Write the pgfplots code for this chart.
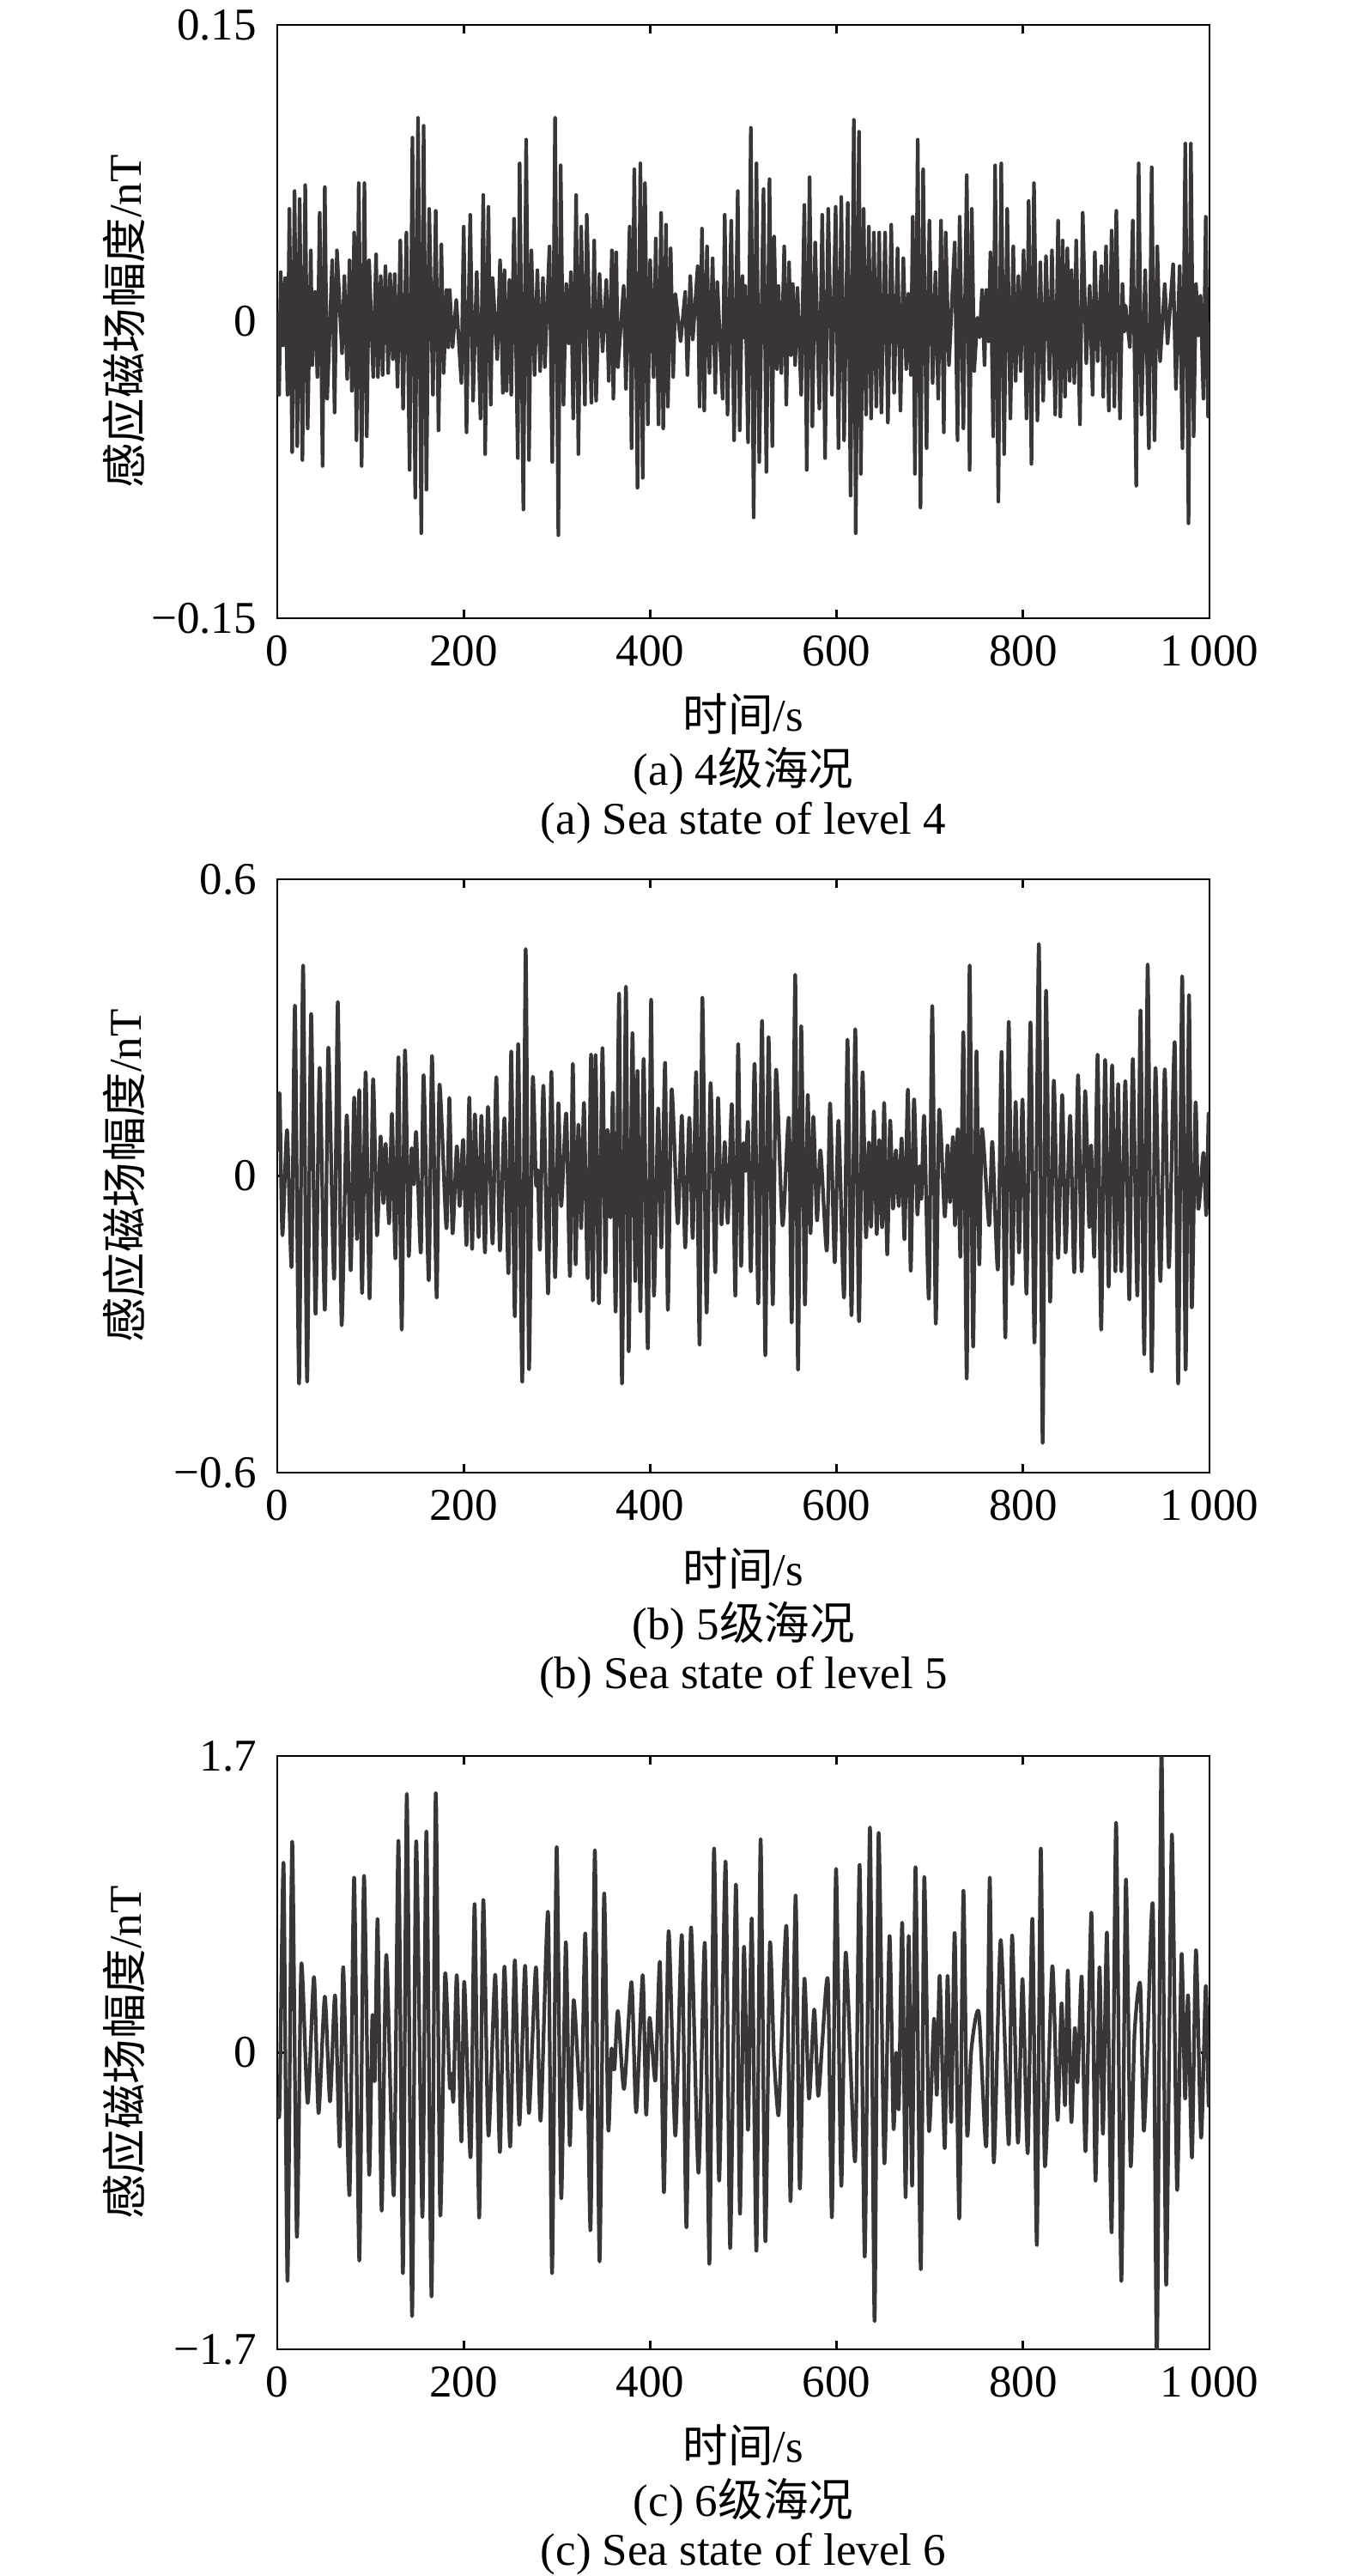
\documentclass[border=0pt]{standalone}
\usepackage{fontspec}
\setmainfont{Liberation Serif}
\newfontfamily\cjk{Noto Sans CJK SC}
\usepackage{pgfplots}
\usepackage{pgfplotstable}
\pgfplotsset{compat=1.18}
\definecolor{sig}{RGB}{58,54,55}
\newcommand{\lf}{\fontsize{10.6}{12.5}\selectfont}
\newcommand{\zh}[1]{{\cjk\fontsize{10.5}{12.5}\selectfont #1}}
\pgfplotsset{
  panel/.style={
    width=217.2pt, height=138.2pt, scale only axis,
    xmin=0, xmax=1000,
    xtick={0,200,400,600,800,1000},
    xticklabels={0,200,400,600,800,1\thinspace000},
    tick align=inside,
    major tick length=2pt,
    axis line style={line width=0.55pt},
    every tick/.style={line width=0.55pt, black},
    tick label style={font=\lf},
    yticklabel style={xshift=-1.3pt},
    xticklabel style={yshift=-0.6pt},
    xlabel={\zh{时间}/s},
    ylabel={\zh{感应磁场幅度}/nT},
    every axis x label/.style={at={(axis description cs:0.5,-0.162)},anchor=center,font=\lf},
    every axis y label/.style={at={(axis description cs:-0.1645,0.5)},rotate=90,anchor=center,font=\lf},
    clip mode=individual,
  },
  sigline/.style={color=sig, line width=0.85pt, line join=round},
}
\pgfplotstableread{
t v
0 0.005
2 -0.037
3.7 0.025
6 -0.012
8.5 0.022
11 -0.037
13 0.057
16 -0.066
18.5 0.066
21.5 -0.063
24 0.062
27 -0.070
30 0.069
32.6 -0.054
36 0.036
37.5 -0.022
40.6 0.015
43 -0.028
45.5 0.055
48.6 -0.073
51 0.068
53.5 -0.039
59 0.031
61.5 -0.046
64 0.036
69.5 -0.016
72 0.023
75 -0.029
77.5 0.031
80 -0.035
82.5 0.045
85 -0.060
87.4 0.070
90.5 -0.073
93.5 0.070
96 -0.058
98.5 0.031
103 -0.028
106 0.034
108 -0.028
111 0.023
113 -0.027
116 0.028
119 -0.026
121 0.024
124 -0.019
126 0.024
129 -0.033
132 0.041
135 -0.044
138.5 0.045
142 -0.075
145 0.093
148 -0.089
151 0.103
154.5 -0.107
157 0.099
160 -0.085
163 0.057
167 -0.037
170 0.056
173 -0.055
176 0.039
178.5 -0.026
181.5 0.016
183.4 -0.013
185 0.016
188 -0.013
192 0.011
197.5 -0.031
200 0.048
203 -0.056
207 0.054
210 -0.040
214 0.025
218 -0.049
221 0.064
223 -0.067
226.5 0.058
229 -0.042
231 0.022
236 -0.019
239 0.031
242 -0.036
243.7 0.026
246 -0.035
249 0.021
251 -0.037
254 0.052
258 -0.069
260 0.080
264 -0.095
267 0.092
270 -0.070
272.6 0.036
276 -0.027
279 0.026
282 -0.025
285 0.022
287 -0.023
292 0.038
295 -0.071
298 0.103
301.5 -0.108
304 0.079
307 -0.042
310 0.019
312.6 -0.011
315 0.025
317.5 -0.049
320.6 0.064
323 -0.067
326 0.048
330 -0.042
332 0.054
337 -0.041
340 0.041
342 -0.040
345.7 0.024
349 -0.015
353 0.021
355.6 -0.030
359 0.036
360.5 -0.039
363.6 0.035
365.4 -0.023
371.6 0.018
374 -0.034
378 0.048
380 -0.064
383 0.077
386.4 -0.084
389.5 0.080
392 -0.079
394.4 0.070
397.5 -0.052
400 0.031
403.7 -0.028
406 0.042
409 -0.052
411.7 0.055
414 -0.054
417 0.049
419 -0.043
422 0.037
424.7 -0.028
427 0.014
432.7 -0.010
437.6 0.015
440 -0.027
443 0.023
445.7 -0.009
451 0.028
453 -0.043
455.6 0.047
458 -0.045
461 0.038
463.6 -0.026
467 0.032
469.8 -0.036
472 0.020
477.8 -0.039
480 0.054
483 -0.047
487 0.051
490 -0.060
494 0.066
496 -0.055
499 0.023
500.5 -0.008
502 0.018
505 -0.061
508 0.098
511 -0.099
514 0.080
517 -0.071
521.6 0.067
524.7 -0.076
528 0.072
531 -0.063
533 0.043
536 -0.024
537.6 0.018
540.7 -0.026
543.8 0.038
546 -0.042
549 0.030
551 -0.017
553 0.019
555.5 -0.022
558 0.017
562 -0.037
565.4 0.059
568 -0.075
571 0.073
574 -0.053
577 0.040
581.5 -0.044
584.6 0.054
587.6 -0.069
591 0.057
595 -0.037
599 0.058
602 -0.064
605 0.063
608 -0.060
612 0.060
615 -0.088
618.5 0.102
620.5 -0.107
624 0.096
626 -0.077
629 0.057
631.6 -0.047
634.6 0.048
637 -0.049
640 0.045
642.6 -0.043
645.7 0.045
648 -0.046
652 0.045
655 -0.051
658.6 0.049
661.7 -0.036
665.4 0.037
668.5 -0.045
671.6 0.032
674.7 -0.024
677 0.014
679.6 -0.027
681.7 0.053
684 -0.077
687 0.092
690 -0.094
692.8 0.077
696.5 -0.064
699.5 0.051
703 -0.031
706 0.025
709 -0.039
712 0.051
715 -0.056
717 0.045
720.5 -0.022
726.7 0.040
729.7 -0.060
732 0.053
736 -0.054
739.6 0.074
742.7 -0.075
745 0.057
747.6 -0.025
751 0.002
753.5 -0.008
756 0.016
758.7 -0.022
760.6 0.016
763 -0.010
765 0.035
768 -0.058
770 0.079
773.5 -0.091
776.6 0.080
779.7 -0.067
783 0.057
786.4 -0.049
789.5 0.038
792 -0.030
795 0.023
797.5 -0.025
800.6 0.036
803.7 -0.049
806 0.061
809 -0.072
811.7 0.070
815.4 -0.050
818.5 0.030
821.6 -0.040
824.6 0.033
828.4 -0.029
831 0.036
834.5 -0.047
837.6 0.051
840 -0.048
842.5 0.041
845 -0.038
847.5 0.037
850 -0.030
852 0.026
855 -0.031
857 0.041
861 -0.052
864 0.055
867.8 -0.021
871.5 0.018
874.6 -0.037
877 0.035
880 -0.020
884 0.028
886 -0.038
889 0.038
892 -0.045
895 0.046
898 -0.043
900 0.056
904 -0.049
906.6 0.019
908.5 -0.005
910 0.008
914.6 -0.013
917.7 0.051
921.4 -0.083
924 0.080
927 -0.047
931 0.026
935 -0.064
938 0.078
941 -0.060
944 0.038
947 -0.020
952 0.019
955 -0.011
961 0.029
964 -0.034
968 0.028
971 -0.064
974 0.090
977.5 -0.102
980 0.090
983 -0.058
985.5 0.019
988 -0.007
990.4 0.013
993.5 -0.039
996 0.053
998.5 -0.048
1000 0.000
}\dataA
\pgfplotstableread{
t v
0 0.05
2.5 0.166
5.5 -0.120
10.5 0.093
15.4 -0.183
19 0.344
23.4 -0.420
27.7 0.426
32 -0.416
36.3 0.328
41 -0.279
45.5 0.219
51 -0.271
54.8 0.260
61 -0.208
65 0.352
69 -0.301
74.5 0.123
78.8 -0.191
82.5 0.159
85.5 -0.128
88 0.174
91 -0.237
94.8 0.210
99 -0.248
102.8 0.196
107 -0.120
110.8 0.080
113.8 -0.055
116.3 0.065
120 -0.096
123 0.126
126.8 -0.167
130 0.240
133.5 -0.311
137 0.254
141 -0.161
144 0.055
146.5 -0.017
149 0.088
154 -0.155
157 0.204
162.5 -0.211
166 0.243
171 -0.246
174 0.185
181.5 -0.106
184.6 0.158
188 -0.116
192.6 0.060
195.7 -0.061
199.4 0.073
203 -0.140
206 0.159
209 -0.148
212 0.125
216 -0.124
219 0.122
222.8 -0.155
226 0.140
231 -0.137
235 0.200
238.8 -0.151
243.7 0.117
248 -0.197
251 0.252
254.8 -0.284
258.5 0.267
262.8 -0.416
266.5 0.459
270 -0.390
274 0.196
277.5 -0.016
279.5 0.010
281.8 -0.148
285.5 0.183
290.5 -0.238
294 0.211
298 -0.205
301.5 0.147
304.6 -0.061
310 0.126
314 -0.203
317 0.227
320 -0.179
323 0.104
326 -0.106
329 0.148
333 -0.207
336.6 0.246
338.5 -0.252
341.4 0.245
345 -0.258
348.8 0.259
352 -0.195
354.3 0.093
357.5 -0.084
360 0.168
363 -0.274
366.7 0.369
369.8 -0.420
374 0.383
377 -0.355
381 0.289
384 -0.213
386.4 0.213
389.5 -0.274
393 0.237
397.5 -0.349
401 0.357
404 -0.242
408.6 0.137
412 -0.145
416 0.229
419 -0.271
423 0.175
429.6 -0.096
434 0.122
437.6 -0.145
442 0.118
445.7 -0.126
449.4 0.210
453 -0.341
456 0.361
460.5 -0.276
464.8 0.188
469.8 -0.195
472.8 0.158
476.5 -0.098
480 0.069
483.3 -0.095
487.7 0.145
491.4 -0.242
494.4 0.267
497.5 -0.181
500 0.063
502.5 0.010
505 0.107
508 -0.193
512 0.227
516 -0.258
520 0.314
523.5 -0.363
527 0.281
531.5 -0.260
535 0.215
542 -0.100
548.8 0.117
551.9 -0.295
555.6 0.407
558.6 -0.392
562 0.303
566 -0.260
569 0.164
572 -0.116
575 0.120
579 -0.090
582.7 0.052
589.5 -0.151
593 0.147
598 -0.175
602 0.112
608 -0.246
611.7 0.276
616 -0.282
620 0.297
624 -0.294
627.8 0.210
631.5 -0.124
634.6 0.068
637 -0.103
640 0.131
643 -0.118
645.7 0.073
648.8 -0.104
651 0.148
654.3 -0.159
657.4 0.112
660.5 -0.066
663.6 0.052
666.7 -0.061
669.8 0.076
672.8 -0.128
676.5 0.175
679.5 -0.192
683 0.155
686.6 -0.077
689 0.020
691 -0.046
694 0.120
699 -0.248
702.6 0.344
706.3 -0.298
710 0.133
716 -0.082
719 0.062
721.7 -0.053
724.8 0.079
727 -0.100
730 0.095
732.8 -0.163
736 0.290
739.6 -0.410
742.7 0.426
746.4 -0.345
750 0.252
753 -0.179
756 0.095
763.6 -0.100
767 0.069
773 -0.189
777 0.251
781 -0.327
784.6 0.312
788.3 -0.219
792 0.150
795.7 -0.155
799.4 0.155
803.7 -0.238
808 0.311
812.3 -0.337
817 0.469
821 -0.540
824.6 0.374
829 -0.254
833 0.193
837.6 -0.166
842 0.164
845.6 -0.155
850.5 0.122
854.9 -0.195
859 0.204
862.9 -0.193
866.6 0.172
871 -0.103
873 0.062
876.4 -0.163
880 0.245
883.8 -0.311
888 0.235
891.8 -0.224
895.5 0.224
899 -0.193
902 0.186
905.4 -0.193
909.7 0.192
914 -0.250
917.7 0.237
922.6 -0.242
926 0.335
930 -0.361
933.7 0.428
938 -0.395
942 0.218
947.3 -0.213
952 0.216
956.5 -0.185
962.7 0.270
966.4 -0.420
970.7 0.404
974.4 -0.392
978 0.366
981 -0.266
985 0.148
988 -0.066
993.5 0.047
996.6 -0.079
999 0.126
1000 0.05
}\dataB
\pgfplotstableread{
t v
0 -0.25
2.5 -0.320
6.8 1.083
11 -1.309
16 1.210
21 -1.054
25.8 0.508
32.6 -0.289
39.4 0.434
44.3 -0.347
51 0.322
56.6 -0.280
62 0.329
67 -0.539
70.8 0.490
77.5 -0.816
82.5 1.004
88 -1.192
93 1.013
98.5 -0.696
102 0.212
104.6 -0.159
107.7 0.763
112 -0.906
117 0.561
125 -0.816
130 1.215
134.8 -1.264
139 1.483
144.6 -1.510
149 1.212
155.7 -0.942
160 1.268
165.5 -1.398
170 1.488
174.8 -0.928
180 0.450
185 -0.190
187 -0.120
189 -0.271
192.6 0.445
197.5 -0.510
200.6 0.407
207.4 -0.600
211.7 0.852
216.6 -0.946
221 0.875
226.5 -0.476
233.8 0.447
238.8 -0.570
243.7 0.494
249.8 -0.539
254.8 0.530
259.7 -0.414
265.8 0.499
270 -0.347
277.5 0.490
282.5 -0.391
290.5 0.803
294.8 -1.264
299.7 1.179
304.6 -0.834
309.5 0.633
313.8 -0.532
318 0.302
326 -0.324
330.5 0.682
336 -1.018
340.7 1.161
345.7 -1.197
350.6 0.910
355 -0.436
358.5 0.020
361.7 -0.096
365.4 0.239
372 -0.208
380 0.405
385 -0.342
392 0.445
395.7 -0.356
399.4 0.199
405.6 -0.159
410.5 0.517
414.8 -0.801
419.8 0.696
427 -0.476
434 0.673
438.9 -1.002
443.8 0.718
451.8 -0.689
458.6 0.629
463.6 -1.210
468.5 1.170
474 -0.734
480.9 1.096
485.8 -1.121
492 0.964
496.3 -0.924
500.6 0.606
505 -0.443
509 0.767
514 -1.136
518.5 1.224
523.5 -1.080
528.4 0.620
532.7 -0.011
537.6 -0.360
540.7 0.038
546.3 0.718
550.6 -0.852
556 0.902
560.5 -0.778
565.4 0.423
570.4 -0.264
576 0.248
580.2 -0.248
584.6 0.056
590.7 0.409
595 -0.942
599.4 1.054
605 -0.763
609.8 0.575
619.8 -0.622
624.7 1.076
630.2 -1.170
635.8 1.291
640.7 -1.539
645 1.257
651.2 -0.633
656.8 0.669
661 -0.432
664 0.000
666.7 -0.315
670.4 0.745
674 -0.830
677.4 0.669
681 -0.763
684.7 1.063
690.3 -1.242
694 1.004
699 -0.443
704.5 0.195
707.5 -0.242
710.6 0.441
716 -0.548
719 0.441
723 -0.398
726.7 0.687
731.6 -0.951
736 0.928
740 -0.465
744.5 0.016
752.5 0.230
760.6 -0.532
764.3 1.004
768.6 -0.629
776 0.646
784.6 -0.526
788.3 0.673
794.5 -0.517
799.4 0.423
805 -0.577
810 0.767
814.8 -1.103
819 1.170
823.4 -0.651
831.4 0.497
837 -0.387
841.3 0.284
845 -0.302
848 0.472
851.8 -0.398
855.5 0.141
858.5 -0.168
862.9 0.436
867 -0.566
873.3 0.803
877.7 -0.734
882 0.490
885.7 -0.465
890 0.687
895 -1.029
899.8 1.318
905.4 -1.309
910.3 0.991
915.3 -0.644
919.6 0.114
925.7 0.391
929.4 -0.443
933 -0.040
939.3 0.834
943.6 -1.760
948.5 1.760
953.5 -1.331
959.6 1.250
965.2 -0.785
970 0.566
973.8 -0.264
977 0.329
981.2 -0.602
985.5 0.588
991 -0.488
996 0.383
999 -0.298
1000 -0.100
}\dataC
\begin{document}
\begin{tikzpicture}
\useasboundingbox (0,0) rectangle (315pt,-600pt);
% panel (a)
\begin{axis}[panel, at={(64.6pt,-5.8pt)}, anchor=north west,
  ymin=-0.15, ymax=0.15, ytick={-0.15,0,0.15},
  yticklabels={−0.15,0,0.15}]
\addplot[sigline] table[x=t,y=v] {\dataA};
\node[font=\lf] at (axis description cs:0.5,-0.257) {(a) 4\zh{级海况}};
\node[font=\lf] at (axis description cs:0.5,-0.345) {(a) Sea state of level 4};
\end{axis}
% panel (b)
\begin{axis}[panel, at={(64.6pt,-204.8pt)}, anchor=north west,
  ymin=-0.6, ymax=0.6, ytick={-0.6,0,0.6},
  yticklabels={−0.6,0,0.6}]
\addplot[sigline, smooth, tension=0.4] table[x=t,y=v] {\dataB};
\node[font=\lf] at (axis description cs:0.5,-0.257) {(b) 5\zh{级海况}};
\node[font=\lf] at (axis description cs:0.5,-0.345) {(b) Sea state of level 5};
\end{axis}
% panel (c)
\begin{axis}[panel, at={(64.6pt,-409pt)}, anchor=north west,
  ymin=-1.7, ymax=1.7, ytick={-1.7,0,1.7},
  yticklabels={−1.7,0,1.7}]
\addplot[sigline, smooth, tension=0.4] table[x=t,y=v] {\dataC};
\node[font=\lf] at (axis description cs:0.5,-0.257) {(c) 6\zh{级海况}};
\node[font=\lf] at (axis description cs:0.5,-0.345) {(c) Sea state of level 6};
\end{axis}
\end{tikzpicture}
\end{document}
